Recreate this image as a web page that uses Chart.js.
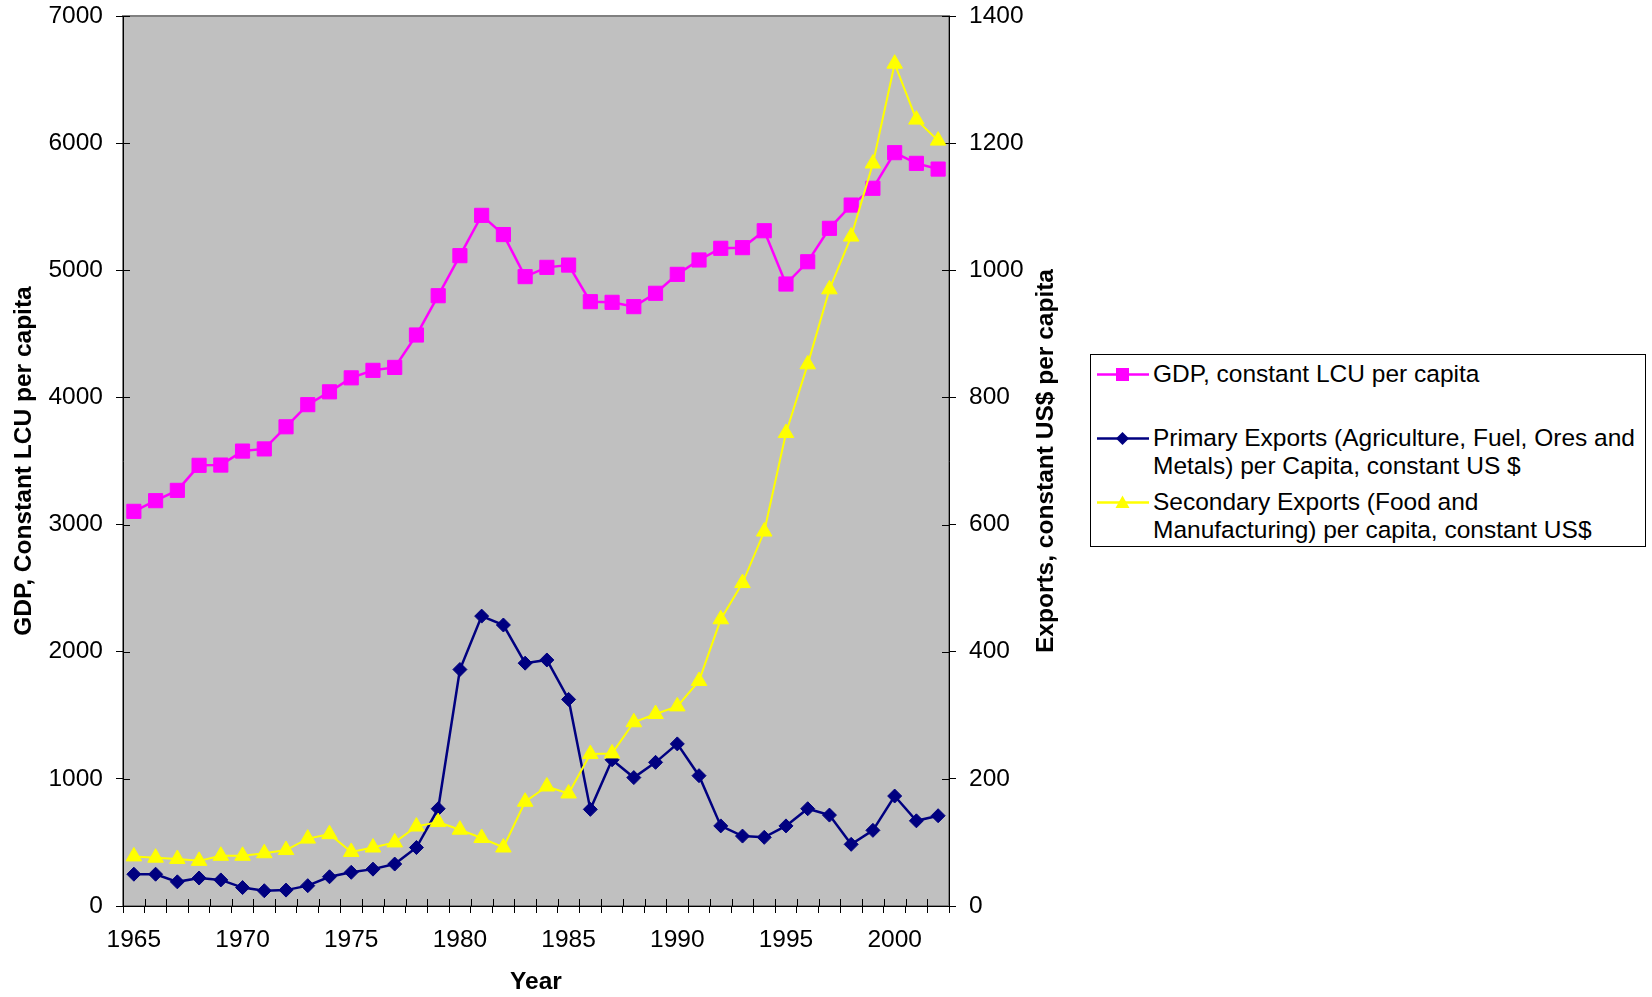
<!DOCTYPE html>
<html><head><meta charset="utf-8">
<script src="https://cdn.jsdelivr.net/npm/chart.js@4.4.0/dist/chart.umd.min.js"></script>
<style>
html,body{margin:0;padding:0;background:#fff;width:1652px;height:997px;overflow:hidden;font-family:'Liberation Sans',Arial,sans-serif;}
#wrap{position:absolute;left:0;top:0;width:1090px;height:997px;}
#legend{position:absolute;left:1090px;top:354px;width:554px;height:191px;border:1px solid #000;background:#fff;}
.row{position:absolute;left:0;width:554px;font-size:24.5px;line-height:28.4px;color:#000;}
.row svg{position:absolute;left:6px;top:0;}
.row .txt{position:absolute;left:62px;top:0;white-space:pre;}
</style></head>
<body>
<div id="wrap"><canvas id="c" width="1090" height="997"></canvas></div>
<div id="legend"></div>
<script>
const years = ['1965','1966','1967','1968','1969','1970','1971','1972','1973','1974','1975','1976','1977','1978','1979','1980','1981','1982','1983','1984','1985','1986','1987','1988','1989','1990','1991','1992','1993','1994','1995','1996','1997','1998','1999','2000','2001','2002'];
const xTickLabels = ['1965','1970','1975','1980','1985','1990','1995','2000'];
const gdpValues = [3104,3188,3269,3466,3468,3578,3595,3769,3943,4044,4154,4213,4236,4491,4800,5115,5432,5281,4950,5023,5041,4753,4748,4714,4819,4968,5081,5173,5178,5311,4892,5067,5330,5513,5645,5925,5841,5796];
const primaryValues = [50,50,38,44,41,29,24,25,32,46,53,58,66,92,153,372,456,442,382,387,325,152,230,202,226,255,205,126,110,108,126,153,143,97,119,173,134,142];
const secondaryValues = [78,76,74,71,79,79,83,88,106,113,85,92,100,125,132,120,107,92,164,188,177,239,240,289,302,314,354,451,508,589,744,852,970,1053,1168,1325,1237,1204];
const seriesNames = ['GDP, constant LCU per capita','Primary Exports (Agriculture, Fuel, Ores and\nMetals) per Capita, constant US $','Secondary Exports (Food and\nManufacturing) per capita, constant US$'];
const seriesColors = ['#FF00FF','#000080','#FFFF00'];
const seriesMarkers = ['rect','rectRot','triangle'];
const xTitle = 'Year';
const leftTitle = 'GDP, Constant LCU per capita';
const rightTitle = 'Exports, constant US$ per capita';
const FONT = "'Liberation Sans', Arial, sans-serif";

const bgPlugin = {
  id:'bg',
  beforeDraw(chart){
    const {ctx, chartArea:a} = chart;
    ctx.save();
    ctx.fillStyle = '#C0C0C0';
    ctx.fillRect(a.left, a.top, a.right-a.left, a.bottom-a.top);
    ctx.strokeStyle = '#808080'; ctx.lineWidth = 2;
    ctx.strokeRect(a.left, a.top, a.right-a.left, a.bottom-a.top);
    ctx.restore();
  },
  beforeDatasetsDraw(chart){
    const {ctx, chartArea:a} = chart;
    ctx.save(); ctx.strokeStyle = '#000'; ctx.lineWidth = 1;
    const ln=(x1,y1,x2,y2)=>{ctx.beginPath();ctx.moveTo(x1,y1);ctx.lineTo(x2,y2);ctx.stroke();};
    const ys = chart.scales.y;
    ys.ticks.forEach((t,i)=>{const p=Math.round(ys.getPixelForTick(i))+0.5; ln(a.left,p,a.left+7,p);});
    const y1 = chart.scales.y1;
    y1.ticks.forEach((t,i)=>{const p=Math.round(y1.getPixelForTick(i))+0.5; ln(a.right-7,p,a.right,p);});
    const xs = chart.scales.x;
    const half = (xs.getPixelForValue(1)-xs.getPixelForValue(0))/2;
    for(let i=0;i<=years.length;i++){
      const p = Math.round(i<years.length ? xs.getPixelForValue(i)-half : xs.getPixelForValue(i-1)+half)+0.5;
      ln(p,a.bottom-7,p,a.bottom);
    }
    ctx.restore();
  },
  afterDraw(chart){
    const {ctx, chartArea:a} = chart;
    ctx.save();
    ctx.translate(1046, (a.top+a.bottom)/2);
    ctx.rotate(-Math.PI/2);
    ctx.font = "bold 24.5px " + FONT;
    ctx.fillStyle = '#000'; ctx.textAlign='center'; ctx.textBaseline='middle';
    ctx.fillText(rightTitle, 0, 0);
    ctx.restore();
  }
};

const valuesList = [gdpValues, primaryValues, secondaryValues];
const axisIds = ['y','y1','y1'];
const radii = [10,7,9];
const widths = [2.5,2.5,2];
const datasets = valuesList.map((vals,i)=>({
  label: seriesNames[i].replace('\n',' '),
  data: vals,
  yAxisID: axisIds[i],
  borderColor: seriesColors[i],
  backgroundColor: seriesColors[i],
  pointStyle: seriesMarkers[i],
  pointRadius: radii[i],
  pointHoverRadius: radii[i],
  pointBorderWidth: 1,
  borderWidth: widths[i],
  tension: 0,
  order: 3-i,
  clip: false
}));

const tickFont = {family: FONT, size: 24.5};
const titleFont = {family: FONT, size: 24.5, weight: 'bold'};
const plain = v => String(v);

new Chart(document.getElementById('c'), {
  type: 'line',
  data: {labels: years, datasets},
  plugins: [bgPlugin],
  options: {
    responsive: false,
    animation: false,
    layout: {padding: {top:16, left:0, right:0, bottom:0}},
    plugins: {legend: {display:false}, tooltip: {enabled:false}},
    scales: {
      x: {
        type: 'category', offset: true,
        grid: {offset: true, drawOnChartArea: false, drawTicks: true, tickLength: 7, tickColor: '#000'},
        border: {display: true, color: '#000', width: 1},
        ticks: {autoSkip: false, maxRotation: 0, minRotation: 0, color: '#000', font: tickFont, padding: 13,
          callback: (v,i) => xTickLabels.includes(years[i]) ? years[i] : ''},
        title: {display: true, text: xTitle, color: '#000', font: titleFont, padding: {top:0, bottom:0}},
        afterFit: s => { s.height = 91; s.paddingLeft = 0; s.paddingRight = 0; }
      },
      y: {
        type: 'linear', position: 'left', min: 0, max: 7000,
        grid: {drawOnChartArea: false, drawTicks: true, tickLength: 7, tickColor: '#000'},
        border: {display: true, color: '#000', width: 1},
        ticks: {stepSize: 1000, color: '#000', font: tickFont, padding: 13, callback: plain},
        title: {display: true, text: leftTitle, color: '#000', font: titleFont, padding: {top:10, bottom:0}},
        afterFit: s => { s.width = 123; s.paddingTop = 0; s.paddingBottom = 0; }
      },
      y1: {
        type: 'linear', position: 'right', min: 0, max: 1400,
        grid: {drawOnChartArea: false, drawTicks: true, tickLength: 7, tickColor: '#000'},
        border: {display: true, color: '#000', width: 1},
        ticks: {stepSize: 200, color: '#000', font: tickFont, padding: 13, callback: plain},
        title: {display: false},
        afterFit: s => { s.width = 141; s.paddingTop = 0; s.paddingBottom = 0; }
      }
    }
  }
});

// HTML legend built from the series arrays
const legendTops = [5, 69, 133];
const legend = document.getElementById('legend');
seriesNames.forEach((name,i)=>{
  const row = document.createElement('div');
  row.className = 'row';
  row.style.top = legendTops[i] + 'px';
  const c = seriesColors[i];
  let marker = '';
  if (seriesMarkers[i]==='rect') marker = `<rect x="19" y="8" width="13" height="13" fill="${c}"/>`;
  else if (seriesMarkers[i]==='rectRot') marker = `<polygon points="25.5,8 32,14.5 25.5,21 19,14.5" fill="${c}"/>`;
  else marker = `<polygon points="25.5,7.5 32.5,20 18.5,20" fill="${c}"/>`;
  row.innerHTML = `<svg width="52" height="29"><line x1="0" y1="14.5" x2="52" y2="14.5" stroke="${c}" stroke-width="2.5"/>${marker}</svg><div class="txt"></div>`;
  row.querySelector('.txt').textContent = name;
  legend.appendChild(row);
});
</script>
</body></html>
